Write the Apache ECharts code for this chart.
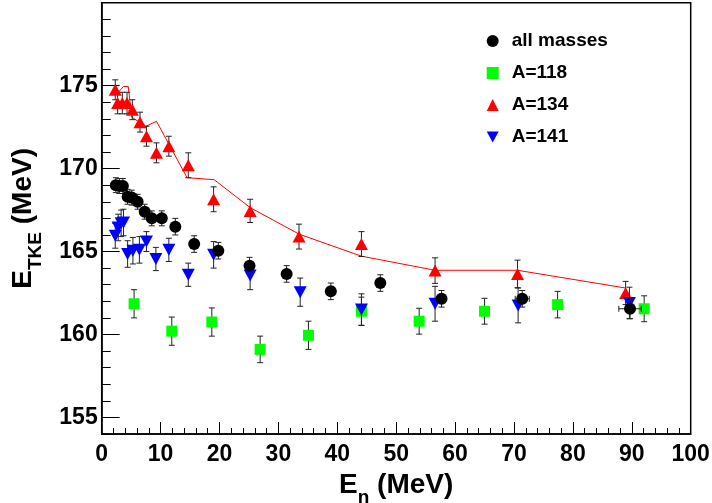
<!DOCTYPE html>
<html><head><meta charset="utf-8">
<script src="https://cdn.jsdelivr.net/npm/echarts@6/dist/echarts.min.js"></script>
<style>html,body{margin:0;padding:0;background:#fff}#c{width:712px;height:503px}</style>
</head><body><div id="c"></div>
<script>
// ---- data ----
const allX   = [2.4, 3.0, 3.6, 4.4, 5.1, 6.1, 7.3, 8.5, 10.2, 12.5, 15.7, 19.8, 25.1, 31.4, 38.9, 47.3, 57.7, 71.4, 89.7];
const allY   = [169.0, 168.95, 168.95, 168.3, 168.25, 168.0, 167.4, 167.0, 167.0, 166.5, 165.45, 165.05, 164.15, 163.65, 162.6, 163.1, 162.15, 162.15, 161.55];
const allYErr= [0.45, 0.45, 0.45, 0.45, 0.45, 0.45, 0.45, 0.45, 0.45, 0.5, 0.5, 0.5, 0.5, 0.5, 0.5, 0.5, 0.5, 0.5, 0.6];
const allXErr= [0, 0, 0, 0, 0, 0, 0, 0, 0, 0, 0, 0, 0, 0, 0, 0, 0, 1.2, 1.9];

const a118X  = [5.5, 11.9, 18.7, 26.9, 35.1, 44.1, 53.9, 65.0, 77.4, 92.1];
const a118Y  = [161.85, 160.2, 160.75, 159.1, 159.95, 161.4, 160.8, 161.4, 161.8, 161.55];
const a118Err= [0.85, 0.85, 0.85, 0.8, 0.85, 0.85, 0.78, 0.78, 0.8, 0.78];

const a134X  = [2.3, 2.7, 3.5, 4.3, 5.2, 6.5, 7.6, 9.3, 11.4, 14.7, 19.0, 25.2, 33.5, 44.1, 56.6, 70.6, 88.95];
const a134Y  = [174.75, 173.95, 173.95, 173.95, 173.55, 172.8, 171.95, 170.95, 171.35, 170.2, 168.15, 167.45, 165.9, 165.45, 163.85, 163.65, 162.5];
const a134Err= [0.6, 0.65, 0.65, 0.65, 0.6, 0.6, 0.6, 0.6, 0.6, 0.75, 0.75, 0.7, 0.75, 0.75, 0.77, 0.83, 0.7];

const a141X  = [2.3, 2.8, 3.3, 3.7, 4.4, 5.3, 6.4, 7.6, 9.2, 11.4, 14.7, 19.0, 25.2, 33.7, 44.1, 56.6, 70.7, 89.6];
const a141Y  = [165.95, 166.45, 166.7, 166.75, 164.85, 165.05, 165.1, 165.6, 164.55, 165.1, 163.6, 164.8, 163.55, 162.55, 161.5, 161.85, 161.75, 161.9];
const a141Err= [0.75, 0.8, 0.8, 0.8, 0.8, 0.8, 0.8, 0.6, 0.7, 0.7, 0.7, 0.8, 0.85, 0.85, 0.95, 1.05, 1.05, 0.95];

const modelX = [2.8, 3.7, 4.5, 5.1, 7.5, 9.3, 14.5, 19.1, 25.2, 33.5, 44.1, 56.6, 70.6, 88.95];
const modelY = [174.6, 174.95, 174.95, 173.1, 172.55, 172.85, 169.45, 169.33, 167.65, 166.05, 164.72, 163.87, 163.87, 162.8];

const xTicks = [0, 10, 20, 30, 40, 50, 60, 70, 80, 90, 100];
const yTicks = [155, 160, 165, 170, 175];
const legendNames = ['all masses', 'A=118', 'A=134', 'A=141'];

// ---- chart ----
const FONT = "'Liberation Sans', Arial, sans-serif";
const chart = echarts.init(document.getElementById('c'), null, {renderer: 'canvas'});
const pairs = (xs, ys) => xs.map((x, i) => [x, ys[i]]);
const errData = (xs, ys, ye, xe) => xs.map((x, i) => [x, ys[i], ye[i], xe ? xe[i] : 0]);

function errSeries(data, z) {
  return {
    type: 'custom', xAxisIndex: 0, yAxisIndex: 0, data: data, encode: {x: 0, y: 1},
    silent: true, z: z,
    renderItem: function (params, api) {
      const x = api.value(0), y = api.value(1), ey = api.value(2), ex = api.value(3);
      const top = api.coord([x, y + ey]), bot = api.coord([x, y - ey]);
      const cap = 3;
      const st = {stroke: '#222', lineWidth: 1};
      const ch = [
        {type: 'line', shape: {x1: top[0], y1: top[1], x2: bot[0], y2: bot[1]}, style: st},
        {type: 'line', shape: {x1: top[0] - cap, y1: top[1], x2: top[0] + cap, y2: top[1]}, style: st},
        {type: 'line', shape: {x1: bot[0] - cap, y1: bot[1], x2: bot[0] + cap, y2: bot[1]}, style: st}
      ];
      if (ex > 0) {
        const l = api.coord([x - ex, y]), r = api.coord([x + ex, y]);
        ch.push(
          {type: 'line', shape: {x1: l[0], y1: l[1], x2: r[0], y2: r[1]}, style: st},
          {type: 'line', shape: {x1: l[0], y1: l[1] - cap, x2: l[0], y2: l[1] + cap}, style: st},
          {type: 'line', shape: {x1: r[0], y1: r[1] - cap, x2: r[0], y2: r[1] + cap}, style: st}
        );
      }
      return {type: 'group', children: ch};
    }
  };
}

const titleRich = {
  a: {fontSize: 28, fontWeight: 'bold', fontFamily: FONT, color: '#000', lineHeight: 32, verticalAlign: 'top'},
  b: {fontSize: 19, fontWeight: 'bold', fontFamily: FONT, color: '#000', lineHeight: 19, verticalAlign: 'top', padding: [17, 0, 0, 0]}
};
const downTri = 'path://M0,0L10,0L5,9Z';

chart.setOption({
  animation: false,
  backgroundColor: '#fff',
  grid: {left: 101.7, right: 21.3, top: 2.7, bottom: 69, show: true, borderColor: '#000', borderWidth: 1.5,
         containLabel: false, outerBoundsMode: 'none'},
  legend: {
    orient: 'vertical', left: 481.7, top: 26, itemWidth: 12, itemHeight: 12, itemGap: 12,
    selectedMode: false, data: legendNames,
    textStyle: {fontSize: 19, fontWeight: 'bold', color: '#000', lineHeight: 20, fontFamily: FONT, padding: [0, 0, 0, 8]}
  },
  xAxis: {
    type: 'value', min: xTicks[0], max: xTicks[xTicks.length - 1], interval: 10,
    axisLine: {show: true, lineStyle: {color: '#000', width: 1.5}},
    axisTick: {show: true, inside: true, length: 12, lineStyle: {color: '#000', width: 1}},
    minorTick: {show: true, splitNumber: 5, length: 6, lineStyle: {color: '#000', width: 1}},
    axisLabel: {fontSize: 23, fontWeight: 'bold', color: '#000', fontFamily: FONT, margin: 9},
    splitLine: {show: false},
    name: '{a|E}{b|n}{a| (MeV)}', nameLocation: 'middle', nameGap: 36,
    nameTextStyle: {rich: titleRich}
  },
  yAxis: [
    {
      type: 'value', min: 154, max: 180, interval: 1, position: 'left',
      axisLine: {show: true, lineStyle: {color: '#000', width: 1.5}},
      axisTick: {show: true, inside: true, length: 9, lineStyle: {color: '#000', width: 1}},
      axisLabel: {show: false},
      splitLine: {show: false},
      name: '{a|E}{b|TKE}{a| (MeV)}', nameLocation: 'middle', nameGap: 60,
      nameTextStyle: {rich: titleRich}
    },
    {
      type: 'value', min: 154, max: 180, position: 'left',
      axisLine: {show: false},
      axisTick: {show: true, inside: true, length: 18, customValues: yTicks, lineStyle: {color: '#000', width: 1}},
      axisLabel: {customValues: yTicks, fontSize: 23, fontWeight: 'bold', color: '#000', fontFamily: FONT, margin: 4},
      splitLine: {show: false}
    }
  ],
  series: [
    {type: 'line', name: 'model', data: pairs(modelX, modelY), symbol: 'none', z: 1,
     lineStyle: {color: '#ff0000', width: 1}, silent: true},
    errSeries(errData(a118X, a118Y, a118Err), 2),
    {type: 'scatter', name: 'A=118', data: pairs(a118X, a118Y), symbol: 'rect', symbolSize: 11,
     itemStyle: {color: '#00ff00', opacity: 1}, z: 3},
    errSeries(errData(a134X, a134Y, a134Err), 4),
    {type: 'scatter', name: 'A=134', data: pairs(a134X, a134Y), symbol: 'triangle', symbolSize: [13, 12],
     itemStyle: {color: '#ff0000', opacity: 1}, z: 5},
    errSeries(errData(a141X, a141Y, a141Err), 6),
    {type: 'scatter', name: 'A=141', data: pairs(a141X, a141Y), symbol: downTri, symbolSize: [13, 12],
     itemStyle: {color: '#0000ff', opacity: 1}, z: 7},
    errSeries(errData(allX, allY, allYErr, allXErr), 8),
    {type: 'scatter', name: 'all masses', data: pairs(allX, allY), symbol: 'circle', symbolSize: 12,
     itemStyle: {color: '#000', opacity: 1}, z: 9}
  ]
});
</script>
</body></html>
